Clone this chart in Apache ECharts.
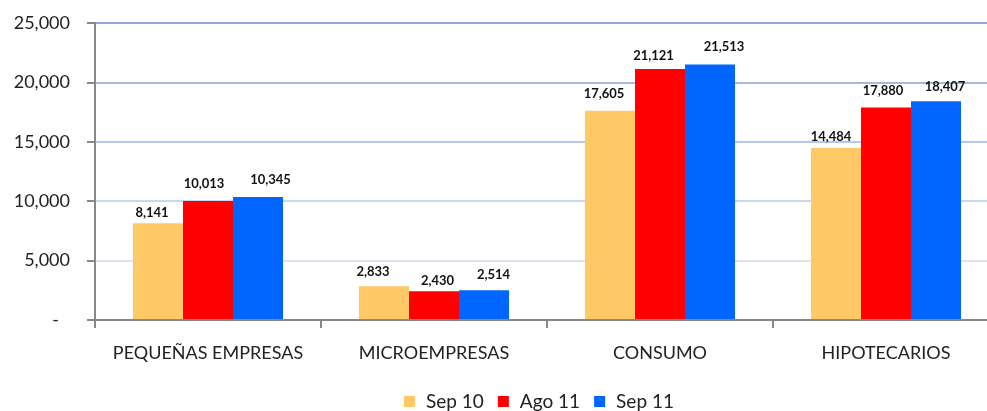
<!DOCTYPE html>
<html>
<head>
<meta charset="utf-8">
<script src="https://cdn.jsdelivr.net/npm/echarts@6/dist/echarts.min.js"></script>
<style>html,body{margin:0;padding:0;background:#fff;overflow:hidden}#c{width:1000px;height:411px}</style>
</head>
<body>
<div id="c"></div>
<script>
const categories = ['PEQUEÑAS EMPRESAS', 'MICROEMPRESAS', 'CONSUMO', 'HIPOTECARIOS'];
const seriesNames = ['Sep 10', 'Ago 11', 'Sep 11'];
const sep10 = [8141, 2833, 17605, 14484];
const ago11 = [10013, 2430, 21121, 17880];
const sep11 = [10345, 2514, 21513, 18407];
const yTicks = [0, 5000, 10000, 15000, 20000, 25000];

// label nudges (style only): [dx, gap above bar]
const labelNudge = [
  [[-6, 10], [-11, 15], [-6, 17.5], [-5, 11]],
  [[-4, 17.5], [3.5, 10.5], [-6.5, 13], [-3, 17]],
  [[12.5, 17], [9.5, 15.5], [14, 17.5], [9, 15]]
];
const colors = ['#FFCA66', '#FF0000', '#0066FF'];
const FONT = 'Lato';

function fmt(v) { return v.toLocaleString('en-US'); }

const chart = echarts.init(document.getElementById('c'));
const values = [sep10, ago11, sep11];
const series = values.map((arr, si) => ({
  name: seriesNames[si],
  type: 'bar',
  barWidth: 50,
  barGap: '0%',
  itemStyle: { color: colors[si] },
  data: arr.map((v, i) => ({
    value: v,
    label: { offset: [labelNudge[si][i][0], -(labelNudge[si][i][1] - 7)] }
  })),
  label: {
    show: true,
    position: 'top',
    distance: 0,
    lineHeight: 14,
    fontFamily: FONT,
    fontWeight: 'bold',
    fontSize: 13,
    color: '#111',
    formatter: p => fmt(p.value)
  }
}));

chart.setOption({
  animation: false,
  legend: {
    data: seriesNames,
    left: 404,
    top: 392,
    padding: 0,
    itemWidth: 11,
    itemHeight: 11,
    itemGap: 14,
    icon: 'rect',
    textStyle: { fontFamily: FONT, fontSize: 19, color: '#222', padding: [0, 0, 0, 6] }
  },
  grid: { left: 95, top: 23, width: 904, height: 297, containLabel: false },
  xAxis: {
    type: 'category',
    data: categories,
    axisLine: { lineStyle: { color: '#888', width: 2 } },
    axisTick: { show: true, interval: 0, length: 8, lineStyle: { color: '#888', width: 2 } },
    axisLabel: { interval: 0, margin: 24, fontFamily: FONT, fontSize: 18, color: '#222' },
    z: 10
  },
  yAxis: {
    type: 'value',
    min: yTicks[0],
    max: yTicks[yTicks.length - 1],
    interval: yTicks[1] - yTicks[0],
    axisLine: { show: true, lineStyle: { color: '#888', width: 2 } },
    axisTick: { show: true, length: 8, lineStyle: { color: '#888', width: 2 } },
    axisLabel: {
      margin: 25,
      fontFamily: FONT,
      fontSize: 18,
      color: '#222',
      formatter: v => v === 0 ? '{d|-}' : fmt(v),
      rich: { d: { fontFamily: FONT, fontSize: 18, color: '#222', padding: [0, 11, 0, 0] } }
    },
    splitLine: {
      lineStyle: { color: ['#DCE4F4', '#DCE4F4', '#C8D6EF', '#B6C8EA', '#A3BAE3', '#8FAADC'], width: 2 }
    }
  },
  series: series
});
</script>
</body>
</html>
